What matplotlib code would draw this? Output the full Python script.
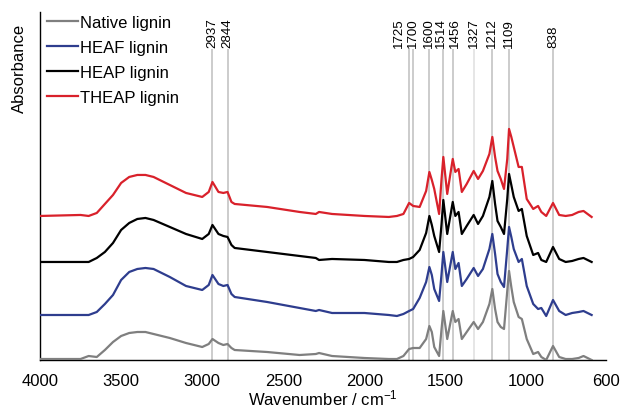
import matplotlib
matplotlib.use('Agg')

import matplotlib.pyplot as plt
import numpy as np

plt.rcParams['font.family'] = 'Liberation Sans'
plt.rcParams['mathtext.default'] = 'regular'

# wavenumbers (cm-1) where the spectra were read
wn = [4000, 3750, 3700, 3650, 3600, 3550, 3500, 3450, 3400, 3350, 3300, 3200, 3100, 3000,
      2960, 2937, 2900, 2870, 2844, 2820, 2800, 2600, 2400, 2300, 2280, 2200, 2000, 1850,
      1800, 1760, 1725, 1700, 1660, 1620, 1600, 1585, 1570, 1540, 1525, 1514, 1490, 1456,
      1440, 1420, 1400, 1370, 1327, 1300, 1270, 1230, 1212, 1195, 1180, 1160, 1140, 1120,
      1109, 1095, 1080, 1050, 1030, 1000, 960, 930, 910, 880, 838, 800, 760, 720, 680, 650, 600]

# absorbance (a.u.) of each lignin, relative to its own baseline
native = [1, 1, 4, 3, 10, 18, 24, 27, 28, 28, 26, 22, 17, 13,
          16, 21, 17, 15, 16, 12, 10, 8, 5, 6, 7, 4, 2, 1,
          1, 4, 11, 12, 12, 21, 34, 28, 13, 4, 31, 49, 21, 49,
          38, 41, 21, 28, 38, 31, 38, 56, 71, 51, 38, 33, 31, 69,
          89, 73, 58, 43, 41, 21, 6, 8, 3, 0, 14, 3, 1, 1, 2, 4, 0]
heaf = [1, 1, 1, 4, 12, 21, 36, 44, 47, 48, 47, 39, 30, 26,
        31, 41, 32, 30, 31, 22, 19, 14, 8, 5, 6, 3, 3, 1,
        0, 2, 5, 7, 18, 34, 49, 41, 27, 15, 42, 64, 34, 64,
        47, 53, 30, 37, 48, 40, 47, 67, 82, 62, 42, 34, 29, 67,
        89, 79, 67, 54, 57, 30, 12, 7, 8, 0, 16, 5, 1, 3, 4, 5, 1]
heap = [0, 0, 0, 4, 10, 19, 32, 39, 43, 44, 42, 35, 28, 23,
        28, 37, 28, 26, 25, 17, 14, 10, 6, 4, 2, 3, 2, 0,
        0, 2, 3, 5, 12, 29, 46, 37, 26, 10, 38, 62, 28, 60,
        46, 50, 28, 36, 47, 38, 46, 65, 81, 58, 41, 35, 28, 63,
        88, 77, 65, 51, 53, 26, 7, 9, 2, 0, 15, 3, 0, 1, 3, 4, 0]
theap = [1, 2, 1, 4, 13, 22, 34, 40, 42, 42, 40, 32, 24, 20,
         25, 35, 25, 24, 25, 15, 13, 10, 5, 3, 5, 3, 1, 0,
         1, 3, 14, 11, 10, 26, 45, 37, 28, 3, 38, 60, 23, 58,
         45, 48, 25, 33, 46, 38, 46, 63, 80, 60, 46, 38, 28, 58,
         88, 80, 70, 50, 50, 18, 8, 11, 5, 1, 14, 2, 1, 2, 5, 6, 0]

names = ['Native lignin', 'HEAF lignin', 'HEAP lignin', 'THEAP lignin']
peaks = [2937, 2844, 1725, 1700, 1600, 1514, 1456, 1327, 1212, 1109, 838]

colors = ['#7f7f7f', '#2e3d8e', '#000000', '#d9212b']
offsets = [0.0, 0.44, 0.98, 1.43]
# nudges so the crowded peak labels don't collide
label_shift = {1725: 60, 1514: 15, 1456: -15}

fig = plt.figure(figsize=(6.2, 4.1), dpi=100)
ax = fig.add_axes([0.0645, 0.1195, 0.9125, 0.849])

wn = np.array(wn)
for data, name, c, off in zip([native, heaf, heap, theap], names, colors, offsets):
    ax.plot(wn, np.array(data) / 100 + off, color=c, lw=1.6, label=name, zorder=3)

for p in peaks:
    lc = '#e2e2e2' if p == 1327 else '#c3c3c3'
    ax.vlines(p, 0, 3.11, color=lc, lw=1.2, zorder=1)
    tx = p + label_shift.get(p, 0)
    ax.text(tx, 3.13, str(p), rotation=90, ha='center', va='bottom', fontsize=9.6)

ax.set_xlim(4000, 513)
ax.set_ylim(0, 3.48)
ax.set_xticks([4000, 3500, 3000, 2500, 2000, 1500, 1000, 513])
ax.set_xticklabels(['4000', '3500', '3000', '2500', '2000', '1500', '1000', '600'])
ax.set_yticks([])
ax.tick_params(axis='x', length=0, pad=9, labelsize=12)

for s in ['top', 'right']:
    ax.spines[s].set_visible(False)
ax.spines['left'].set_linewidth(1.0)
ax.spines['bottom'].set_linewidth(1.0)

ax.set_xlabel('Wavenumber / cm$^{-1}$', fontsize=12, labelpad=0)
ax.set_ylabel('Absorbance', fontsize=12)
ax.yaxis.label.set_va('center')
ax.yaxis.set_label_coords(-0.037, 0.84)

ax.legend(loc='upper left', bbox_to_anchor=(-0.008, 1.025), frameon=False, fontsize=12,
          handlelength=1.85, handletextpad=0.12, labelspacing=0.6, borderaxespad=0.3)

fig.savefig('out.png', dpi=100)
